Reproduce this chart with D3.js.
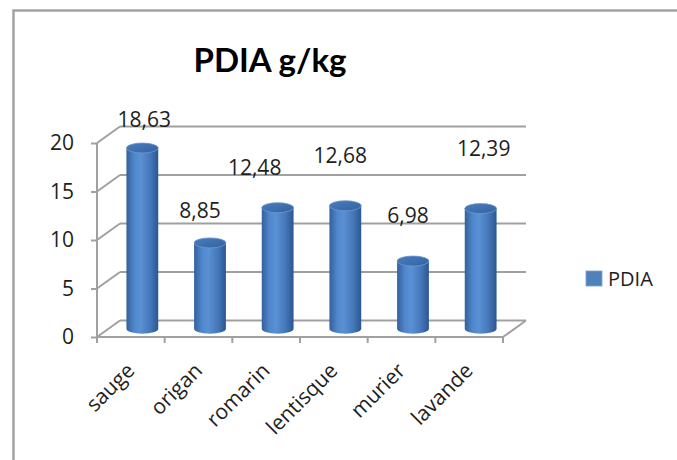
<!DOCTYPE html>
<html>
<head>
<meta charset="utf-8">
<script src="https://cdn.jsdelivr.net/npm/d3@7"></script>
<style>
  html, body { margin: 0; padding: 0; background: #fff; }
  svg { display: block; }
</style>
</head>
<body>
<svg id="chart" width="677" height="460"></svg>
<script>
// Protein values per plant (g/kg)
const categories = ["sauge", "origan", "romarin", "lentisque", "murier", "lavande"];
const pdia = [18.63, 8.85, 12.48, 12.68, 6.98, 12.39];
const valueLabels = ["18,63", "8,85", "12,48", "12,68", "6,98", "12,39"];
const yTicks = [0, 5, 10, 15, 20];
const seriesName = "PDIA";
const title = "PDIA g/kg";

// label placement tweaks: [horizontal shift, lift above cylinder top]
const labelNudge = [[2, 21], [-10, 25], [-23, 33], [-5, 43], [-5, 38], [3, 53]];

const svg = d3.select("#chart");
const W = 677, H = 460;

svg.append("rect").attr("width", W).attr("height", H).attr("fill", "#fff");

// outer chart frame
svg.append("rect")
  .attr("x", 13.5).attr("y", 10.5)
  .attr("width", 720).attr("height", 520)
  .attr("fill", "none")
  .attr("stroke", "#a3a3a3")
  .attr("stroke-width", 2.5);

// title
svg.append("text")
  .attr("x", 270).attr("y", 72)
  .attr("text-anchor", "middle")
  .attr("font-family", "Lato, 'Open Sans', sans-serif")
  .attr("font-weight", "bold")
  .attr("font-size", 33)
  .attr("fill", "#000")
  .text(title);

// 3D box geometry
const x0 = 97, x1 = 503;
const depthX = 23, depthY = -16.5;

const y = d3.scaleLinear().domain([0, 20]).range([337, 143]);
const x = d3.scaleBand().domain(categories).range([x0, x1]).padding(0);
const bw = x.bandwidth();

const gridColor = "#a0a0a0";
const textColor = "#1e1e1e";
const grid = svg.append("g").attr("stroke", gridColor).attr("stroke-width", 2).attr("fill", "none");

// back wall gridlines and side wall diagonals
yTicks.forEach(t => {
  grid.append("line")
    .attr("x1", x0 + depthX).attr("y1", y(t) + depthY)
    .attr("x2", x1 + depthX).attr("y2", y(t) + depthY);
  grid.append("line")
    .attr("x1", x0).attr("y1", y(t))
    .attr("x2", x0 + depthX).attr("y2", y(t) + depthY);
});

// floor front edge and right diagonal
grid.append("line").attr("x1", x0).attr("y1", y(0)).attr("x2", x1).attr("y2", y(0));
grid.append("line").attr("x1", x1).attr("y1", y(0)).attr("x2", x1 + depthX).attr("y2", y(0) + depthY);

// vertical value axis
grid.append("line").attr("x1", x0).attr("y1", y(20)).attr("x2", x0).attr("y2", y(0));

// value axis ticks and labels
const yAxis = d3.axisLeft(y).tickValues(yTicks).tickSize(6).tickPadding(17).tickFormat(d3.format("d"));
const gy = svg.append("g").attr("transform", `translate(${x0},0)`).call(yAxis);
gy.select(".domain").remove();
gy.selectAll(".tick line").attr("stroke", gridColor).attr("stroke-width", 2);
gy.selectAll(".tick text")
  .attr("font-family", "'Open Sans', sans-serif")
  .attr("font-size", 21)
  .attr("fill", textColor);

// category ticks at band boundaries
const boundaries = categories.map(c => x(c)).concat([x1]);
grid.selectAll("line.xtick").data(boundaries).join("line")
  .attr("class", "xtick")
  .attr("x1", d => d).attr("x2", d => d)
  .attr("y1", y(0)).attr("y2", y(0) + 6);

// category labels
svg.append("g").selectAll("text").data(categories).join("text")
  .attr("transform", d => `translate(${x(d) + bw / 2 + 5},${y(0) + 35}) rotate(-45)`)
  .attr("text-anchor", "end")
  .attr("font-family", "'Open Sans', sans-serif")
  .attr("font-size", 21)
  .attr("fill", textColor)
  .text(d => d);

// cylinder shading
const defs = svg.append("defs");
const body = defs.append("linearGradient").attr("id", "cylBody")
  .attr("x1", "0%").attr("x2", "100%").attr("y1", "0%").attr("y2", "0%");
[["0%", "#32609c"], ["25%", "#5187cc"], ["45%", "#5a90d4"], ["75%", "#4577b9"], ["100%", "#2c5690"]]
  .forEach(([o, c]) => body.append("stop").attr("offset", o).attr("stop-color", c));
const cap = defs.append("linearGradient").attr("id", "cylTop")
  .attr("x1", "0%").attr("x2", "100%").attr("y1", "0%").attr("y2", "100%");
[["0%", "#4a7cbd"], ["100%", "#34629f"]]
  .forEach(([o, c]) => cap.append("stop").attr("offset", o).attr("stop-color", c));

const rx = bw * 0.235, ry = 5;
const bars = svg.append("g");
categories.forEach((c, i) => {
  const cx = x(c) + bw / 2 + depthX / 2;
  const yb = y(0) + depthY / 2;
  const yt = y(pdia[i]) + depthY / 2;
  // side of the cylinder, closed by the lower half of the base ellipse
  bars.append("path")
    .attr("d", `M${cx - rx},${yt} L${cx - rx},${yb} A${rx},${ry} 0 0 0 ${cx + rx},${yb} L${cx + rx},${yt} Z`)
    .attr("fill", "url(#cylBody)");
  bars.append("ellipse")
    .attr("cx", cx).attr("cy", yt).attr("rx", rx).attr("ry", ry)
    .attr("fill", "url(#cylTop)")
    .attr("stroke", "#6b98d3").attr("stroke-width", 0.8);

  const [nx, lift] = labelNudge[i];
  svg.append("text")
    .attr("x", cx + nx).attr("y", yt - lift)
    .attr("text-anchor", "middle")
    .attr("font-family", "'Open Sans', sans-serif")
    .attr("font-size", 21)
    .attr("fill", textColor)
    .text(valueLabels[i]);
});

// legend
const lg = svg.append("g");
lg.append("rect")
  .attr("x", 586).attr("y", 271).attr("width", 16).attr("height", 15)
  .attr("fill", "#4f81bd").attr("stroke", "#7aa0d2").attr("stroke-width", 0.8);
lg.append("text")
  .attr("x", 608).attr("y", 278.5)
  .attr("dominant-baseline", "central")
  .attr("font-family", "'Open Sans', sans-serif")
  .attr("font-size", 20)
  .attr("fill", textColor)
  .text(seriesName);
</script>
</body>
</html>
